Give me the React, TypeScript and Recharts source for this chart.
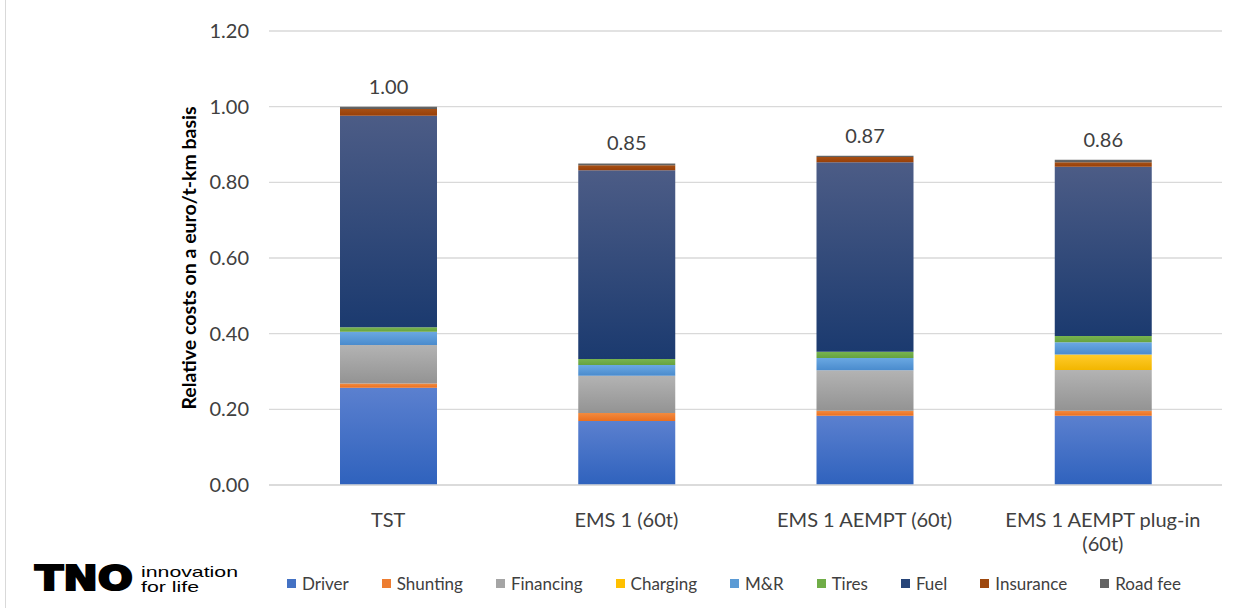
import React from 'react';
import { BarChart, Bar, XAxis, YAxis, CartesianGrid, LabelList } from 'recharts';

// Vehicle concepts compared
const categories = ['TST', 'EMS 1 (60t)', 'EMS 1 AEMPT (60t)', 'EMS 1 AEMPT plug-in\n(60t)'];

// Cost components, relative to TST (euro per t-km)
const driver = [0.257, 0.169, 0.183, 0.183];
const shunting = [0.011, 0.021, 0.013, 0.013];
const financing = [0.102, 0.099, 0.107, 0.108];
const charging = [0, 0, 0, 0.041];
const maintenance = [0.035, 0.028, 0.033, 0.032];
const tires = [0.012, 0.016, 0.016, 0.017];
const fuel = [0.559, 0.499, 0.501, 0.447];
const insurance = [0.018, 0.013, 0.014, 0.012];
const roadFee = [0.006, 0.005, 0.003, 0.007];

const yTicks = [0, 0.2, 0.4, 0.6, 0.8, 1.0, 1.2];

const series = [
  { key: 'driver', name: 'Driver', values: driver, color: '#4472c4', grad: ['#5b80cf', '#2f62bd'] },
  { key: 'shunting', name: 'Shunting', values: shunting, color: '#ed7d31', grad: ['#f28a3f', '#ea6f1f'] },
  { key: 'financing', name: 'Financing', values: financing, color: '#a5a5a5', grad: ['#b3b3b3', '#939393'] },
  { key: 'charging', name: 'Charging', values: charging, color: '#ffc000', grad: ['#ffcb2b', '#f2b600'] },
  { key: 'mr', name: 'M&R', values: maintenance, color: '#5b9bd5', grad: ['#6aa8e2', '#4a8bcd'] },
  { key: 'tires', name: 'Tires', values: tires, color: '#70ad47', grad: ['#78b44f', '#66a23e'] },
  { key: 'fuel', name: 'Fuel', values: fuel, color: '#264478', grad: ['#4c5c86', '#1b3a6f'] },
  { key: 'insurance', name: 'Insurance', values: insurance, color: '#9e480e', grad: ['#a64f14', '#983f08'] },
  { key: 'roadFee', name: 'Road fee', values: roadFee, color: '#636363', grad: ['#6a6a6a', '#5c5c5c'] },
];

const data = categories.map((name, i) => {
  const row: Record<string, number | string> = { name };
  let total = 0;
  series.forEach((s) => {
    row[s.key] = s.values[i];
    total += s.values[i];
  });
  row.total = total;
  return row;
});

const FONT = 'Lato, "Open Sans", sans-serif';
const TEXT = '#404040';

const CategoryTick = (props: any) => {
  const { x, y, payload } = props;
  const lines = String(payload.value).split('\n');
  return (
    <g>
      {lines.map((line: string, i: number) => (
        <text key={i} x={x} y={y + 34 + i * 24} textAnchor="middle" fill={TEXT} fontSize={20} fontFamily={FONT}>
          {line}
        </text>
      ))}
    </g>
  );
};

const ValueTick = (props: any) => {
  const { x, y, payload } = props;
  return (
    <text x={x} y={y + 7} textAnchor="end" fill={TEXT} fontSize={20} fontFamily={FONT}>
      {Number(payload.value).toFixed(2)}
    </text>
  );
};

const AxisTitle = () => (
  <text
    x={196}
    y={258}
    transform="rotate(-90 196 258)"
    textAnchor="middle"
    fill="#000"
    fontSize={19.5}
    fontWeight={700}
    fontFamily={FONT}
  >
    Relative costs on a euro/t-km basis
  </text>
);

export default function App() {
  return (
    <div
      style={{
        position: 'absolute',
        left: 0,
        top: 0,
        width: 1237,
        height: 608,
        background: '#fff',
        fontFamily: FONT,
      }}
    >
      <div style={{ position: 'absolute', left: 5, top: 0, width: 1, height: 608, background: '#d9d9d9' }} />
      <BarChart
        width={1237}
        height={608}
        data={data}
        margin={{ top: 31, right: 15, bottom: 0, left: 0 }}
        barSize={97}
      >
        <defs>
          {series.map((s) => (
            <linearGradient key={s.key} id={`grad-${s.key}`} x1="0" y1="0" x2="0" y2="1">
              <stop offset="0%" stopColor={s.grad[0]} />
              <stop offset="100%" stopColor={s.grad[1]} />
            </linearGradient>
          ))}
          <filter id="bar-shadow" x="-5%" y="-5%" width="115%" height="110%">
            <feDropShadow dx="1.5" dy="1" stdDeviation="1.2" floodColor="#000" floodOpacity="0.25" />
          </filter>
        </defs>
        <CartesianGrid vertical={false} stroke="#d9d9d9" strokeWidth={1.3} />
        <XAxis
          dataKey="name"
          height={123}
          axisLine={{ stroke: '#d9d9d9', strokeWidth: 1.3 }}
          tickLine={false}
          interval={0}
          tick={<CategoryTick />}
        />
        <YAxis
          width={269}
          domain={[0, 1.2]}
          ticks={yTicks}
          axisLine={false}
          tickLine={false}
          tickSize={0}
          tickMargin={20}
          tick={<ValueTick />}
          label={<AxisTitle />}
        />
        {series.map((s, idx) => (
          <Bar
            key={s.key}
            dataKey={s.key}
            name={s.name}
            stackId="cost"
            fill={`url(#grad-${s.key})`}
            isAnimationActive={false}
          >
            {idx === series.length - 1 && (
              <LabelList
                dataKey="total"
                position="top"
                offset={13}
                fill={TEXT}
                fontSize={20}
                fontFamily={FONT}
                formatter={(v: any) => Number(v).toFixed(2)}
              />
            )}
          </Bar>
        ))}
      </BarChart>

      {/* Legend */}
      <div
        style={{
          position: 'absolute',
          left: 287,
          top: 573,
          display: 'flex',
          alignItems: 'center',
          gap: 33,
          fontSize: 17,
          color: TEXT,
          whiteSpace: 'nowrap',
        }}
      >
        {series.map((s) => (
          <div key={s.key} style={{ display: 'flex', alignItems: 'center' }}>
            <span style={{ display: 'inline-block', width: 9, height: 9, background: s.color, marginRight: 6 }} />
            <span>{s.name}</span>
          </div>
        ))}
      </div>

      {/* TNO logo */}
      <svg style={{ position: 'absolute', left: 0, top: 555 }} width={260} height={45}>
        <text
          x={35}
          y={35}
          textLength={98}
          lengthAdjust="spacingAndGlyphs"
          fontFamily='"DejaVu Sans", sans-serif'
          fontWeight={700}
          fontSize={33}
          fill="#000"
          stroke="#000"
          strokeWidth={2}
        >
          TNO
        </text>
        <text
          x={141}
          y={22}
          textLength={97}
          lengthAdjust="spacingAndGlyphs"
          fontFamily='"Liberation Sans", Arial, sans-serif'
          fontSize={15}
          fill="#000"
        >
          innovation
        </text>
        <text
          x={141}
          y={37}
          textLength={58}
          lengthAdjust="spacingAndGlyphs"
          fontFamily='"Liberation Sans", Arial, sans-serif'
          fontSize={15}
          fill="#000"
        >
          for life
        </text>
      </svg>
    </div>
  );
}
